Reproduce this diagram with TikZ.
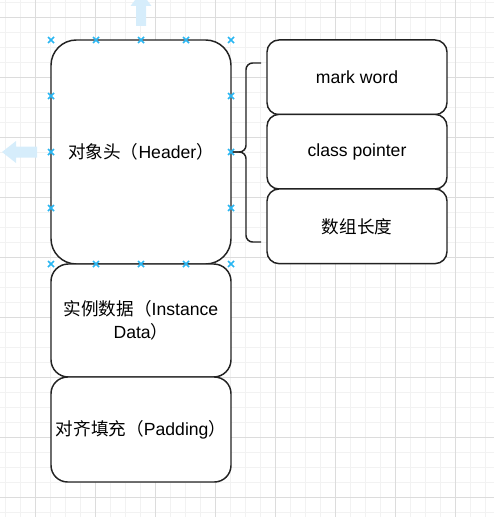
\documentclass[tikz,border=0pt]{standalone}
\usepackage{fontspec}
\setmainfont{Liberation Sans}
\newfontfamily\cjk{Noto Sans CJK SC}
\usetikzlibrary{positioning}
\definecolor{gridminor}{HTML}{F2F2F2}
\definecolor{gridmajor}{HTML}{DCDCDC}
\definecolor{selblue}{HTML}{29B6F2}
\definecolor{hintblue}{HTML}{D6EDFB}
\definecolor{edge}{HTML}{222222}

\begin{document}
\begin{tikzpicture}[x=0.75pt, y=-0.75pt,
		box/.style={draw=edge, line width=1.1pt, fill=white, rounded corners=#1,
				inner sep=2pt, minimum width=135pt, align=center,
				font=\fontsize{13.2}{17}\selectfont},
		brace/.style={draw=edge, line width=1.1pt, rounded corners=5pt},
		marker/.style={draw=selblue, line width=1.1pt},
		hint/.style={fill=hintblue, draw=none}]
		\useasboundingbox (0,0) rectangle (494,517);
		\begin{scope}
			\clip (0,0) rectangle (494,517);
			% grid
			\foreach \g in {5.3,20.3,...,494}
				{
					\draw[gridminor, line width=0.75pt] (\g,0) -- (\g,517);
				}
			\foreach \g in {2.3,17.3,...,517}
				{
					\draw[gridminor, line width=0.75pt] (0,\g) -- (494,\g);
				}
			\foreach \g in {35.3,95.3,...,494}
				{
					\draw[gridmajor, line width=0.75pt] (\g,0) -- (\g,517);
				}
			\foreach \g in {17.3,77.3,...,517}
				{
					\draw[gridmajor, line width=0.75pt] (0,\g) -- (494,\g);
				}
			% hint arrows
			\fill[hint] (136,26) -- (136,6) -- (130.5,6) -- (141,-8) -- (151.5,6) -- (146,6) -- (146,26) -- cycle;
			\fill[hint] (37,146.5) -- (16,146.5) -- (16,141) -- (2,152) -- (16,163) -- (16,157.5) -- (37,157.5) -- cycle;
		\end{scope}
		\node[box=19pt, minimum height=168pt] (header) at (141,152) {{\cjk 对象头（}Header{\cjk ）}};
		\node[box=13pt, minimum height=84.75pt] (instance) at (141,320.5) {{\cjk 实例数据（}Instance\\Data{\cjk ）}};
		\node[box=12.5pt, minimum height=78.75pt] (padding) at (141,429.5) {{\cjk 对齐填充（}Padding{\cjk ）}};
		\node[box=9pt, minimum height=56pt] (markword) at (357,77.3) {mark word};
		\node[box=9pt, minimum height=56pt] (klass) at (357,151.7) {class pointer};
		\node[box=9pt, minimum height=56pt] (arrlen) at (357,226.3) {{\cjk 数组长度}};
		\coordinate (braceTop) at (261,63);
		\coordinate (braceMid) at (246,152);
		\coordinate (braceBot) at (261,242);
		\draw[brace] (braceTop) -| (braceMid) -- (header.east);
		\draw[brace] (header.east) -- (braceMid) |- (braceBot);
		% selection handles
		\foreach \mx in {51,96,141,186,231}
			{
				\draw[marker] (\mx,40) +(-3,-3) -- +(3,3) +(-3,3) -- +(3,-3);
				\draw[marker] (\mx,264) +(-3,-3) -- +(3,3) +(-3,3) -- +(3,-3);
			}
		\foreach \my in {96,152,208}
			{
				\draw[marker] (51,\my) +(-3,-3) -- +(3,3) +(-3,3) -- +(3,-3);
				\draw[marker] (231,\my) +(-3,-3) -- +(3,3) +(-3,3) -- +(3,-3);
			}
	\end{tikzpicture}
\end{document}
